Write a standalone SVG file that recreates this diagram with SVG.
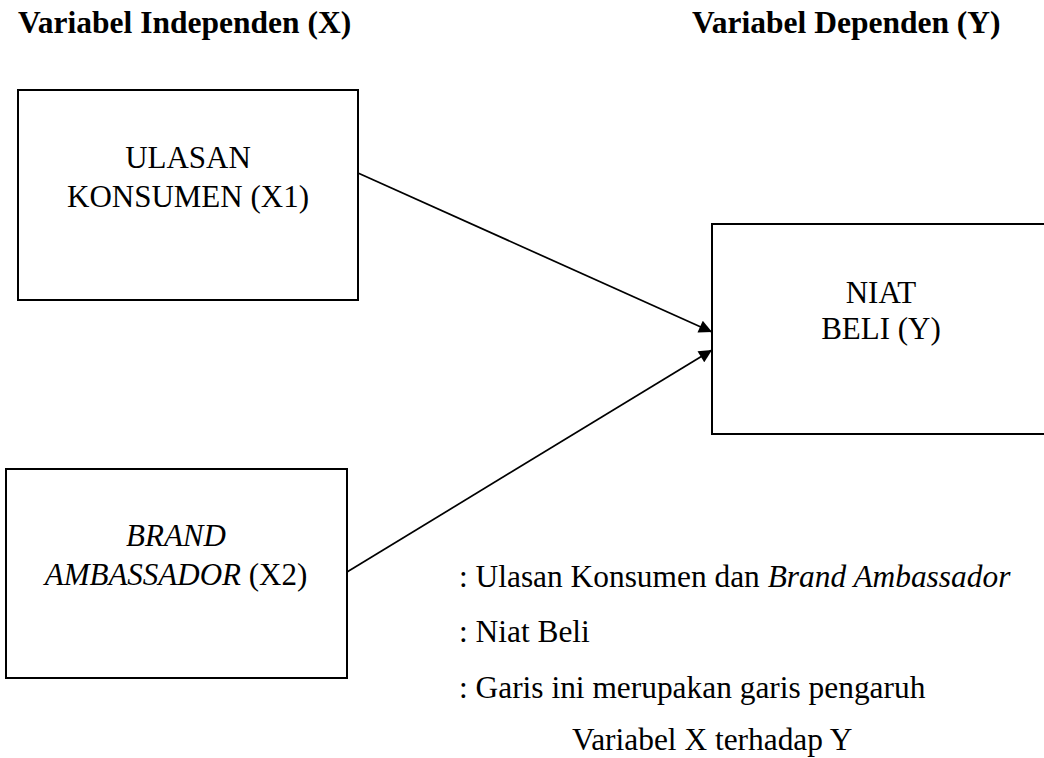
<svg xmlns="http://www.w3.org/2000/svg" width="1044" height="758" viewBox="0 0 1044 758">
<style>
text{font-family:"Liberation Serif","Times New Roman",serif;font-size:31px;fill:#000}
.h{font-weight:bold;font-size:31.5px}
.c{text-anchor:middle}
.i{font-style:italic}
.lg{font-size:31.4px}
.box{fill:#fff;stroke:#000;stroke-width:2}
.ln{stroke:#000;stroke-width:1.7;fill:none}
</style>
<defs>
<marker id="ah" viewBox="0 0 10 10" refX="10" refY="5" markerWidth="14" markerHeight="13" markerUnits="userSpaceOnUse" orient="auto">
<path d="M0,0 L10,5 L0,10 z" fill="#000"/>
</marker>
</defs>
<rect width="1044" height="758" fill="#fff"/>
<g id="headers">
<text class="h" x="18" y="33">Variabel Independen (X)</text>
<text class="h" x="692" y="33">Variabel Dependen (Y)</text>
</g>
<g id="connectors">
<line class="ln" x1="358" y1="173" x2="712" y2="332" marker-end="url(#ah)"/>
<line class="ln" x1="347" y1="572" x2="712" y2="350" marker-end="url(#ah)"/>
</g>
<g id="x1">
<rect class="box" x="18" y="90" width="340" height="210"/>
<text class="c" x="188" y="168">ULASAN</text>
<text class="c" x="188" y="207">KONSUMEN (X1)</text>
</g>
<g id="y">
<rect class="box" x="712" y="224" width="340" height="210"/>
<text class="c" x="881" y="303">NIAT</text>
<text class="c" x="881" y="339">BELI (Y)</text>
</g>
<g id="x2">
<rect class="box" x="6" y="469" width="341" height="209"/>
<text class="c i" x="176" y="546">BRAND</text>
<text class="c" x="176" y="585"><tspan class="i">AMBASSADOR</tspan> (X2)</text>
</g>
<g id="legend">
<text class="lg" x="459" y="587">: Ulasan Konsumen dan <tspan class="i">Brand Ambassador</tspan></text>
<text class="lg" x="459" y="642">: Niat Beli</text>
<text class="lg" x="459" y="698">: Garis ini merupakan garis pengaruh</text>
<text class="lg" x="572" y="750">Variabel X terhadap Y</text>
</g>
</svg>
